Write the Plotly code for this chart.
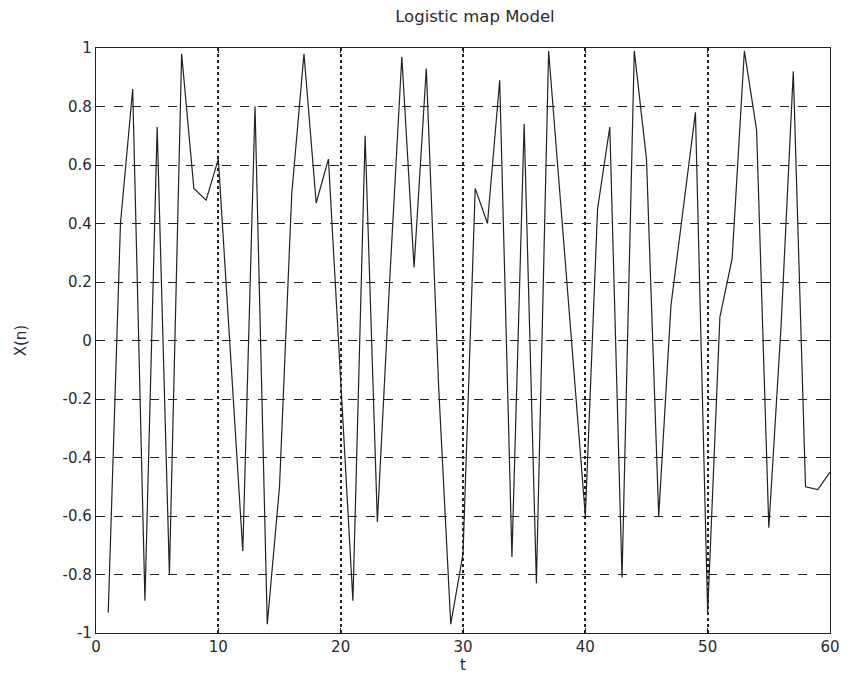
import plotly.graph_objects as go

t_values = list(range(1, 61))
x_values = [
    -0.93, 0.40, 0.86, -0.89, 0.73, -0.80, 0.98, 0.52, 0.48, 0.62,
    -0.05, -0.72, 0.80, -0.97, -0.50, 0.50, 0.98, 0.47, 0.62, -0.15,
    -0.89, 0.70, -0.62, 0.20, 0.97, 0.25, 0.93, -0.15, -0.97, -0.73,
    0.52, 0.40, 0.89, -0.74, 0.74, -0.83, 0.99, 0.46, -0.07, -0.60,
    0.45, 0.73, -0.81, 0.99, 0.62, -0.60, 0.12, 0.45, 0.78, -0.93,
    0.08, 0.28, 0.99, 0.72, -0.64, 0.05, 0.92, -0.50, -0.51, -0.45,
]

xtick_vals = [0, 10, 20, 30, 40, 50, 60]
xtick_text = ["0", "10", "20", "30", "40", "50", "60"]
ytick_vals = [-1, -0.8, -0.6, -0.4, -0.2, 0, 0.2, 0.4, 0.6, 0.8, 1]
ytick_text = ["-1", "-0.8", "-0.6", "-0.4", "-0.2", "0", "0.2", "0.4", "0.6", "0.8", "1"]

fig = go.Figure()
fig.add_trace(go.Scatter(
    x=t_values, y=x_values, mode="lines",
    line=dict(color="#222222", width=1.2),
    showlegend=False,
))

fam = "DejaVu Sans, Liberation Sans, sans-serif"
font = dict(family=fam, size=15, color="#2a2a2a")

fig.update_layout(
    width=849, height=676,
    margin=dict(l=86, r=27, t=40, b=51),
    paper_bgcolor="white", plot_bgcolor="white",
    font=font,
    title=dict(text="Logistic map Model", x=0.55, xanchor="center", y=0.988, yanchor="middle",
               font=dict(family=fam, size=16.5, color="#2a2a2a")),
)
fig.update_xaxes(
    range=[0, 60], tickvals=xtick_vals, ticktext=xtick_text,
    showline=True, linecolor="#222222", linewidth=1.2, mirror="ticks",
    ticks="inside", ticklen=5, tickcolor="#222222",
    showgrid=True, gridcolor="#222222", gridwidth=1.6, griddash="dot",
    zeroline=False,
    title=dict(text="t", standoff=3, font=dict(size=15)),
)
fig.update_yaxes(
    range=[-1, 1], tickvals=ytick_vals, ticktext=ytick_text,
    showline=True, linecolor="#222222", linewidth=1.2, mirror="ticks",
    ticks="inside", ticklen=5, tickcolor="#222222",
    showgrid=True, gridcolor="#222222", gridwidth=1, griddash="dash",
    zeroline=False,
    title=dict(text="X(n)", standoff=32, font=dict(size=15)),
)

fig.write_html("out.html")
